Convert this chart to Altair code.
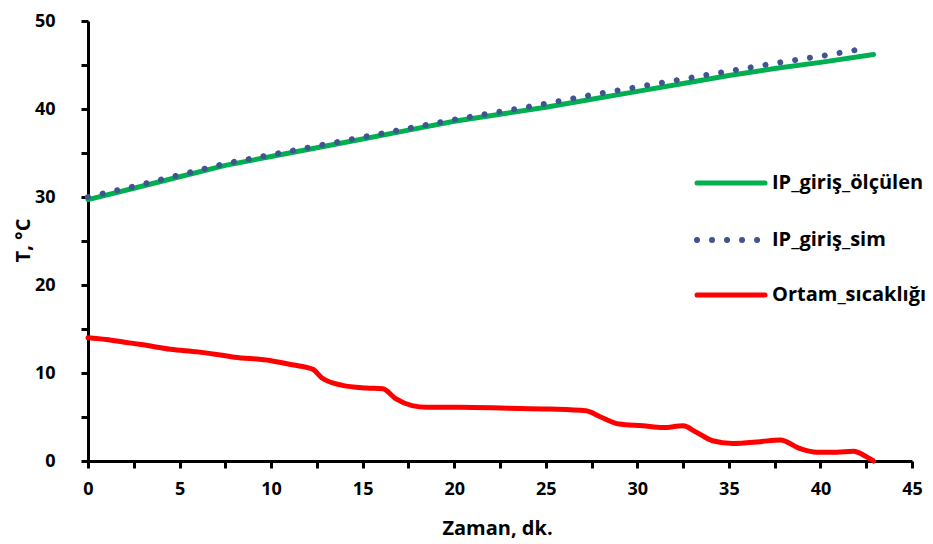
import altair as alt
import pandas as pd

# ---- data ----
t_ip = [0, 2.5, 5, 7.5, 10, 12.5, 15, 17.5, 20, 22.5, 25, 27.5, 30, 32.5, 35, 37.5, 40, 42.9]
ip_olculen = [29.7, 31.0, 32.3, 33.6, 34.6, 35.6, 36.6, 37.6, 38.6, 39.4, 40.2, 41.1,
              42.0, 42.9, 43.8, 44.6, 45.3, 46.2]
t_sim = [0, 2.5, 5, 7.5, 10, 12.5, 15, 17.5, 20, 22.5, 25, 27.5, 30, 32.5, 35, 37.5, 40, 42.5]
ip_sim = [30.0, 31.2, 32.5, 33.8, 34.8, 35.8, 36.8, 37.8, 38.8, 39.7, 40.6, 41.6,
          42.5, 43.4, 44.3, 45.2, 46.0, 46.9]
t_ortam = [0, 1, 2, 3, 4.5, 6, 8, 10, 11, 12, 12.3, 12.8, 13.9, 15.2, 16.1, 16.8, 17.7, 18.5,
           20.3, 22.9, 25.2, 27.2, 28, 29, 30.3, 31.4, 32.5, 33.2, 34.1, 35.2, 36.7, 37.8,
           38.9, 39.8, 40.9, 41.8, 42.5, 42.9]
ortam = [14.0, 13.8, 13.5, 13.2, 12.7, 12.4, 11.8, 11.4, 11.0, 10.6, 10.4, 9.4, 8.6, 8.3, 8.2,
         7.1, 6.3, 6.1, 6.1, 6.0, 5.9, 5.7, 5.0, 4.2, 4.0, 3.8, 4.0, 3.3, 2.3, 2.0, 2.2, 2.4,
         1.4, 1.0, 1.0, 1.1, 0.5, 0.0]

series = ["IP_giriş_ölçülen", "IP_giriş_sim", "Ortam_sıcaklığı"]
colors = ["#00B050", "#3F5490", "#FF0000"]

x_ticks = [i * 2.5 for i in range(19)]
y_ticks = [i * 5 for i in range(11)]

FONT = "Open Sans"

df_g = pd.DataFrame({"t": t_ip, "T": ip_olculen})
df_b = pd.DataFrame({"t": t_sim, "T": ip_sim})
df_r = pd.DataFrame({"t": t_ortam, "T": ortam})

x_enc = alt.X(
    "t:Q",
    scale=alt.Scale(domain=[0, 45], nice=False, zero=False),
    axis=alt.Axis(
        values=x_ticks,
        labelExpr="datum.value % 5 == 0 ? datum.label : ''",
        labelFlush=False,
        title="Zaman, dk.",
        titleX=409,
        titleY=67,
        titleBaseline="middle",
        labelPadding=12,
    ),
)
y_enc = alt.Y(
    "T:Q",
    scale=alt.Scale(domain=[0, 50], nice=False, zero=False),
    axis=alt.Axis(
        values=y_ticks,
        labelExpr="datum.value % 10 == 0 ? datum.label : ''",
        labelFlush=False,
        title="T, °C",
        titleAngle=270,
        titleX=-65,
        titleY=219,
        titleBaseline="middle",
        labelPadding=26,
    ),
)

green = alt.Chart(df_g).mark_line(color=colors[0], strokeWidth=5, strokeCap="round").encode(x=x_enc, y=y_enc)
blue = alt.Chart(df_b).mark_line(
    color=colors[1], strokeWidth=6, strokeCap="round", strokeDash=[0.01, 15]
).encode(x=x_enc, y=y_enc)
red = alt.Chart(df_r).mark_line(
    color=colors[2], strokeWidth=5, strokeCap="round", interpolate="monotone"
).encode(x=x_enc, y=y_enc)

# ---- manual legend (pixel positions inside the plot area) ----
leg = pd.DataFrame({"series": series, "ly": [162, 219, 274]})
leg_x1, leg_x2, leg_tx = 609, 677, 684

def leg_line(i, dash=None):
    kw = dict(color=colors[i], strokeWidth=5 if dash is None else 6, strokeCap="round")
    if dash is not None:
        kw["strokeDash"] = dash
    return alt.Chart(leg.iloc[[i]]).mark_rule(**kw).encode(
        x=alt.value(leg_x1), x2=alt.value(leg_x2), y=alt.Y("ly:Q", scale=None, axis=None)
    )

leg_lines = leg_line(0) + leg_line(1, [0.01, 15]) + leg_line(2)
leg_text = alt.Chart(leg).mark_text(
    align="left", baseline="middle", font=FONT, fontWeight="bold", fontSize=20, color="black"
).encode(x=alt.value(leg_tx), y=alt.Y("ly:Q", scale=None, axis=None), text="series:N")

chart = (
    alt.layer(green, blue, red, leg_lines, leg_text)
    .properties(
        width=824,
        height=440,
        autosize=alt.AutoSizeParams(type="none"),
        padding={"left": 80, "top": 13, "right": 13, "bottom": 80},
    )
    .configure_view(stroke=None)
    .configure_axis(
        grid=False,
        domainColor="black",
        domainWidth=3,
        tickColor="black",
        tickWidth=3,
        tickSize=7,
        labelFont=FONT,
        labelFontWeight="bold",
        labelFontSize=18,
        labelColor="black",
        titleFont=FONT,
        titleFontWeight="bold",
        titleFontSize=20,
        titleColor="black",
    )
)

chart.save("out.html", embed_options={"renderer": "svg", "actions": False})
